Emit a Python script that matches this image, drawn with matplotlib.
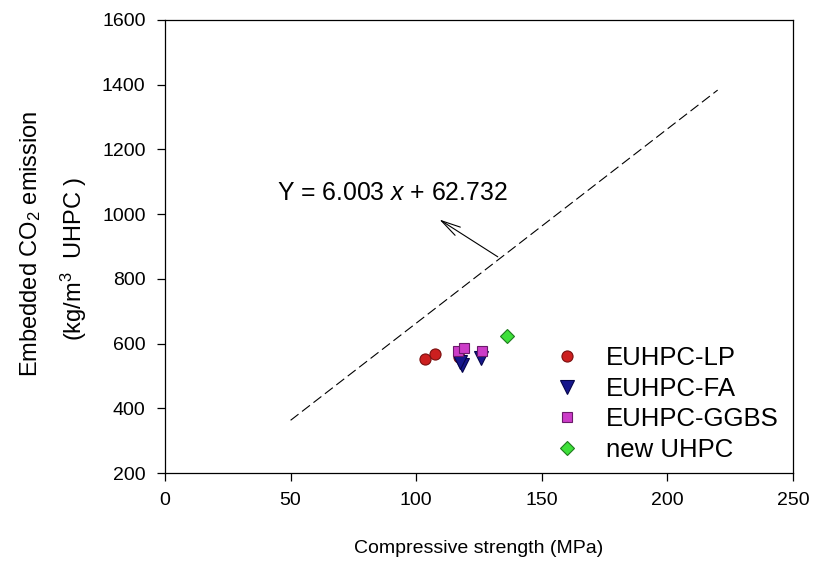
import numpy as np
import matplotlib
matplotlib.use("Agg")
import matplotlib.pyplot as plt

plt.rcParams['font.family'] = ['Liberation Sans', 'DejaVu Sans']
plt.rcParams['mathtext.fontset'] = 'custom'
plt.rcParams['mathtext.rm'] = 'Liberation Sans'
plt.rcParams['mathtext.it'] = 'Liberation Sans:italic'

# measured mixes: compressive strength (MPa) vs embedded CO2 (kg/m3)
lp_x = [103.5, 107.5, 117.2]
lp_y = [552, 569, 559]
fa_x = [118.1, 117.6, 125.7]
fa_y = [534, 542, 554]
ggbs_x = [116.5, 118.9, 126.2]
ggbs_y = [578, 587, 578]
new_x = [136.0]
new_y = [623]

# linear fit
slope = 6.003
intercept = 62.732
fit_range = [50, 220]

fig = plt.figure(figsize=(8.14, 5.69), dpi=100)
ax = fig.add_axes([165 / 814, 96 / 569, 628 / 814, 453 / 569])

fx = np.array(fit_range)
ax.plot(fx, slope * fx + intercept, color='black', lw=0.8, ls=(0, (9, 4)))

ax.plot(lp_x, lp_y, 'o', ms=8, mfc='#cc1f1f', mec='#7a0f0f', mew=0.8,
        ls='none', label='EUHPC-LP')
ax.plot(fa_x, fa_y, 'v', ms=9.5, mfc='#16168c', mec='#05054a', mew=0.8,
        ls='none', label='EUHPC-FA')
ax.plot(ggbs_x, ggbs_y, 's', ms=6.5, mfc='#cc3cc8', mec='#6a1a6a', mew=0.8,
        ls='none', label='EUHPC-GGBS')
ax.plot(new_x, new_y, 'D', ms=7.5, mfc='#3ee03a', mec='#1f7a1d', mew=0.8,
        ls='none', label='new UHPC')

# equation label with arrow pointing back at the fit line
x_tail = 133.4
ax.annotate('', xy=(108.3, 988), xytext=(x_tail, slope * x_tail + intercept),
            arrowprops=dict(arrowstyle='->, head_length=1.4, head_width=0.35',
                            color='black', lw=0.8))
ax.text(44.6, 1065, r'Y = 6.003 $x$ + 62.732', fontsize=17.8, va='center', ha='left')

ax.set_xlim(0, 250)
ax.set_ylim(200, 1600)
ax.set_xticks(np.arange(0, 251, 50))
ax.set_yticks(np.arange(200, 1601, 200))
ax.tick_params(direction='out', length=6, width=0.9, labelsize=14, pad=8,
               top=False, right=False)
for sp in ax.spines.values():
    sp.set_linewidth(0.9)

ax.set_xlabel('Compressive strength (MPa)', fontsize=14, labelpad=22)
fig.text(31 / 814, 1 - 244 / 569, r'Embedded CO$_2$ emission', rotation=90,
         fontsize=17, ha='center', va='center')
fig.text(74 / 814, 1 - 259 / 569, r'(kg/m$^3$  UHPC )', rotation=90,
         fontsize=17, ha='center', va='center')

ax.legend(loc='upper left', bbox_to_anchor=(535 / 814, 1 - 333 / 569),
          bbox_transform=fig.transFigure, frameon=False, fontsize=18.5,
          handletextpad=0.75, labelspacing=0.26, borderpad=0, handlelength=1.5)

fig.savefig('out.png', dpi=100)
